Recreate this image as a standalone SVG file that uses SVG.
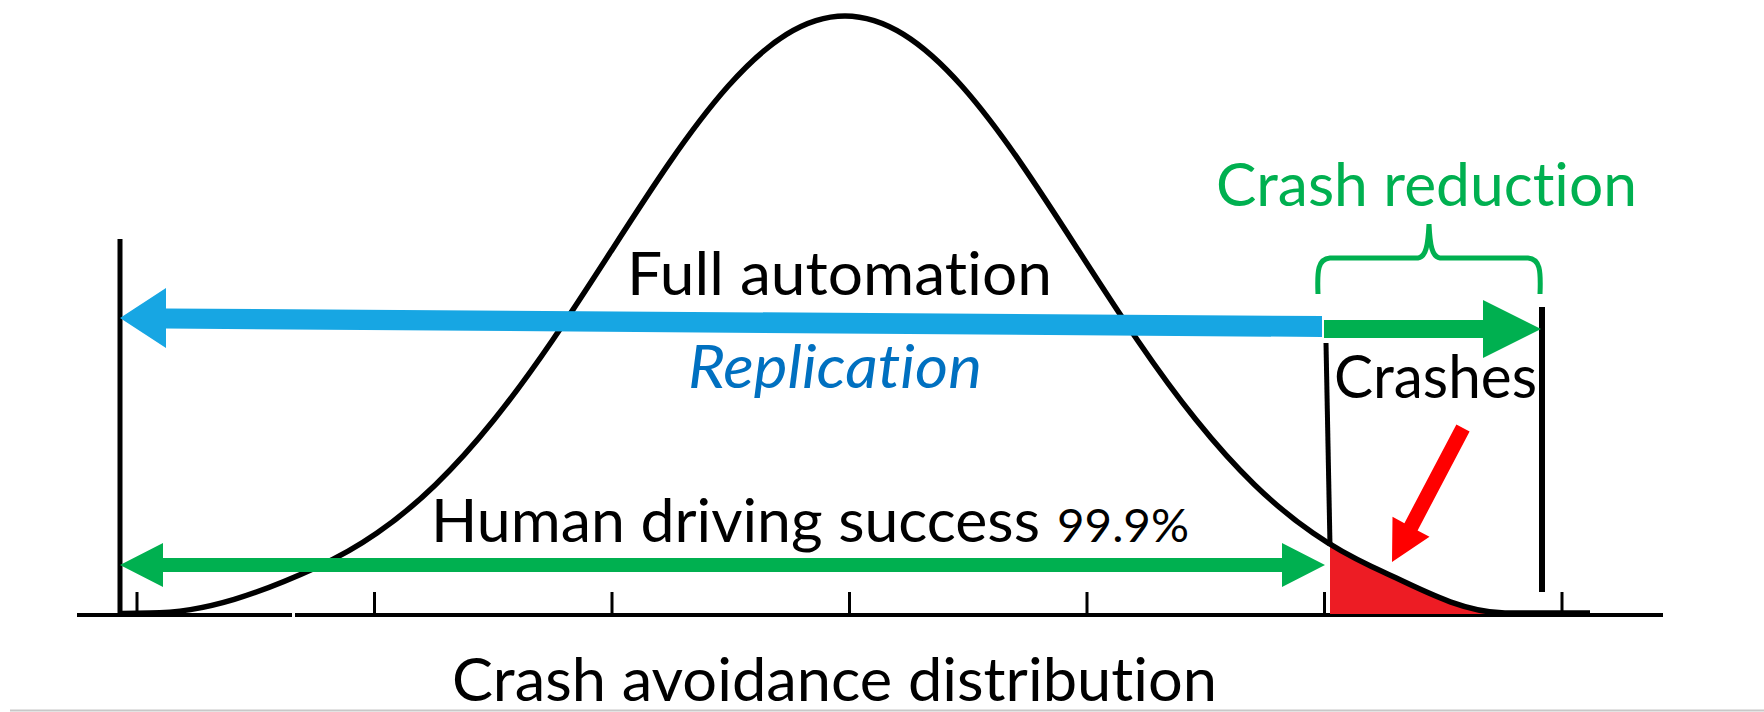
<svg xmlns="http://www.w3.org/2000/svg" width="1764" height="712" viewBox="0 0 1764 712">
<style>
.lbl{font-family:Lato,"Open Sans","Liberation Sans",sans-serif;font-size:60px;fill:#000;font-variant-ligatures:none;font-feature-settings:"liga" 0,"clig" 0,"dlig" 0}
.blk{stroke:#000;fill:none;stroke-linecap:butt}
</style>
<rect width="1764" height="712" fill="#fff"/>
<g id="axis">
<line x1="10" y1="710.5" x2="1764" y2="710.5" stroke="#c8c8c8" stroke-width="2"/>
<line class="blk" x1="77" y1="615" x2="292" y2="615" stroke-width="4"/>
<line class="blk" x1="295" y1="615" x2="1663" y2="615" stroke-width="4"/>
<g stroke="#000" stroke-width="3">
<line x1="137" y1="592" x2="137" y2="615"/>
<line x1="374.5" y1="592" x2="374.5" y2="615"/>
<line x1="612" y1="592" x2="612" y2="615"/>
<line x1="849.5" y1="592" x2="849.5" y2="615"/>
<line x1="1087" y1="592" x2="1087" y2="615"/>
<line x1="1324.5" y1="592" x2="1324.5" y2="615"/>
<line x1="1562" y1="592" x2="1562" y2="615"/>
</g>
</g>
<g id="crash-area">
<path d="M1330,544.3 C1343.8,552.8 1357.7,560.1 1371.5,566.4 C1416,586.7 1460,612.5 1505,613 L1505,614 L1330,614 Z" fill="#ED1C24"/>
</g>
<g id="bell-curve">
<path class="blk" stroke-width="5.5" d="M122,613.5 L150,613 C206,613 262.5,592 318.5,566.4 C338,557.48 357.5,546.58 377,533.1 C396.5,519.62 416,503.56 435.5,484.7 C455,465.84 474.5,444.07 494,419.8 C513.5,395.53 533,368.72 552.5,340.2 C572,311.68 591.5,281.52 611,251.3 C630.5,221.08 650,190.81 669.5,162.6 C689,134.39 708.5,108.29 728,86.3 C747.5,64.31 767,46.47 786.5,34.4 C806,22.33 825.5,16 845,16 C864.5,16 884,22.33 903.5,34.4 C923,46.47 942.5,64.31 962,86.3 C981.5,108.29 1001,134.39 1020.5,162.6 C1040,190.81 1059.5,221.08 1079,251.3 C1098.5,281.52 1118,311.68 1137.5,340.2 C1157,368.72 1176.5,395.53 1196,419.8 C1215.5,444.07 1235,465.84 1254.5,484.7 C1274,503.56 1293.5,519.62 1313,533.1 C1332.5,546.58 1352,557.48 1371.5,566.4 C1416,586.7 1460,612.5 1505,613 L1590,613"/>
</g>
<g id="boundaries">
<line class="blk" x1="120" y1="239" x2="120" y2="615" stroke-width="5"/>
<line class="blk" x1="1542" y1="307" x2="1542" y2="592" stroke-width="6"/>
<line class="blk" x1="1326" y1="343" x2="1330" y2="546" stroke-width="5"/>
</g>
<g id="connectors">
<polygon id="replication-arrow" fill="#17A6E3" points="120,318 166,288 166,308.5 1322,316 1322,337 166,328.5 166,348"/>
<polygon id="crash-reduction-arrow" fill="#00B050" points="1324,320 1483,320 1483,300 1541,329 1483,358 1483,338 1324,338"/>
<polygon id="human-driving-arrow" fill="#00B050" points="120,565 163,543 163,558 1282,558 1282,543 1325,565 1282,587 1282,572 163,572 163,587"/>
<polygon id="crashes-arrow" fill="#FF0000" points="1469.6,431.6 1417.6,530.4 1429.5,536.8 1392,562 1392.5,516.8 1404.4,523.2 1456.4,424.4"/>
<path id="crash-brace" d="M1318,294 C1317,270 1318,259 1330,258 L1418,258 C1426,257 1428,245 1429,224 C1430,245 1432,257 1440,258 L1528,258 C1540,259 1541,270 1540,294" fill="none" stroke="#00B050" stroke-width="5"/>
</g>
<g id="label-crash-reduction"><text class="lbl" x="1216" y="206" textLength="421" lengthAdjust="spacingAndGlyphs" style="fill:#00B050">Crash reduction</text></g>
<g id="label-full-automation"><text class="lbl" x="627" y="295" textLength="425" lengthAdjust="spacingAndGlyphs">Full automation</text></g>
<g id="label-replication"><text class="lbl" x="688" y="388" textLength="294" lengthAdjust="spacingAndGlyphs" style="fill:#0070C0;font-style:italic">Replication</text></g>
<g id="label-crashes"><text class="lbl" x="1334" y="398" textLength="203" lengthAdjust="spacingAndGlyphs">Crashes</text></g>
<g id="label-human-driving"><text class="lbl" x="431" y="542" textLength="609" lengthAdjust="spacingAndGlyphs">Human driving success</text><text class="lbl" x="1057" y="542" textLength="132" lengthAdjust="spacingAndGlyphs" style="font-size:47px">99.9%</text></g>
<g id="label-distribution"><text class="lbl" x="452" y="701" textLength="765" lengthAdjust="spacingAndGlyphs">Crash avoidance distribution</text></g>
</svg>
